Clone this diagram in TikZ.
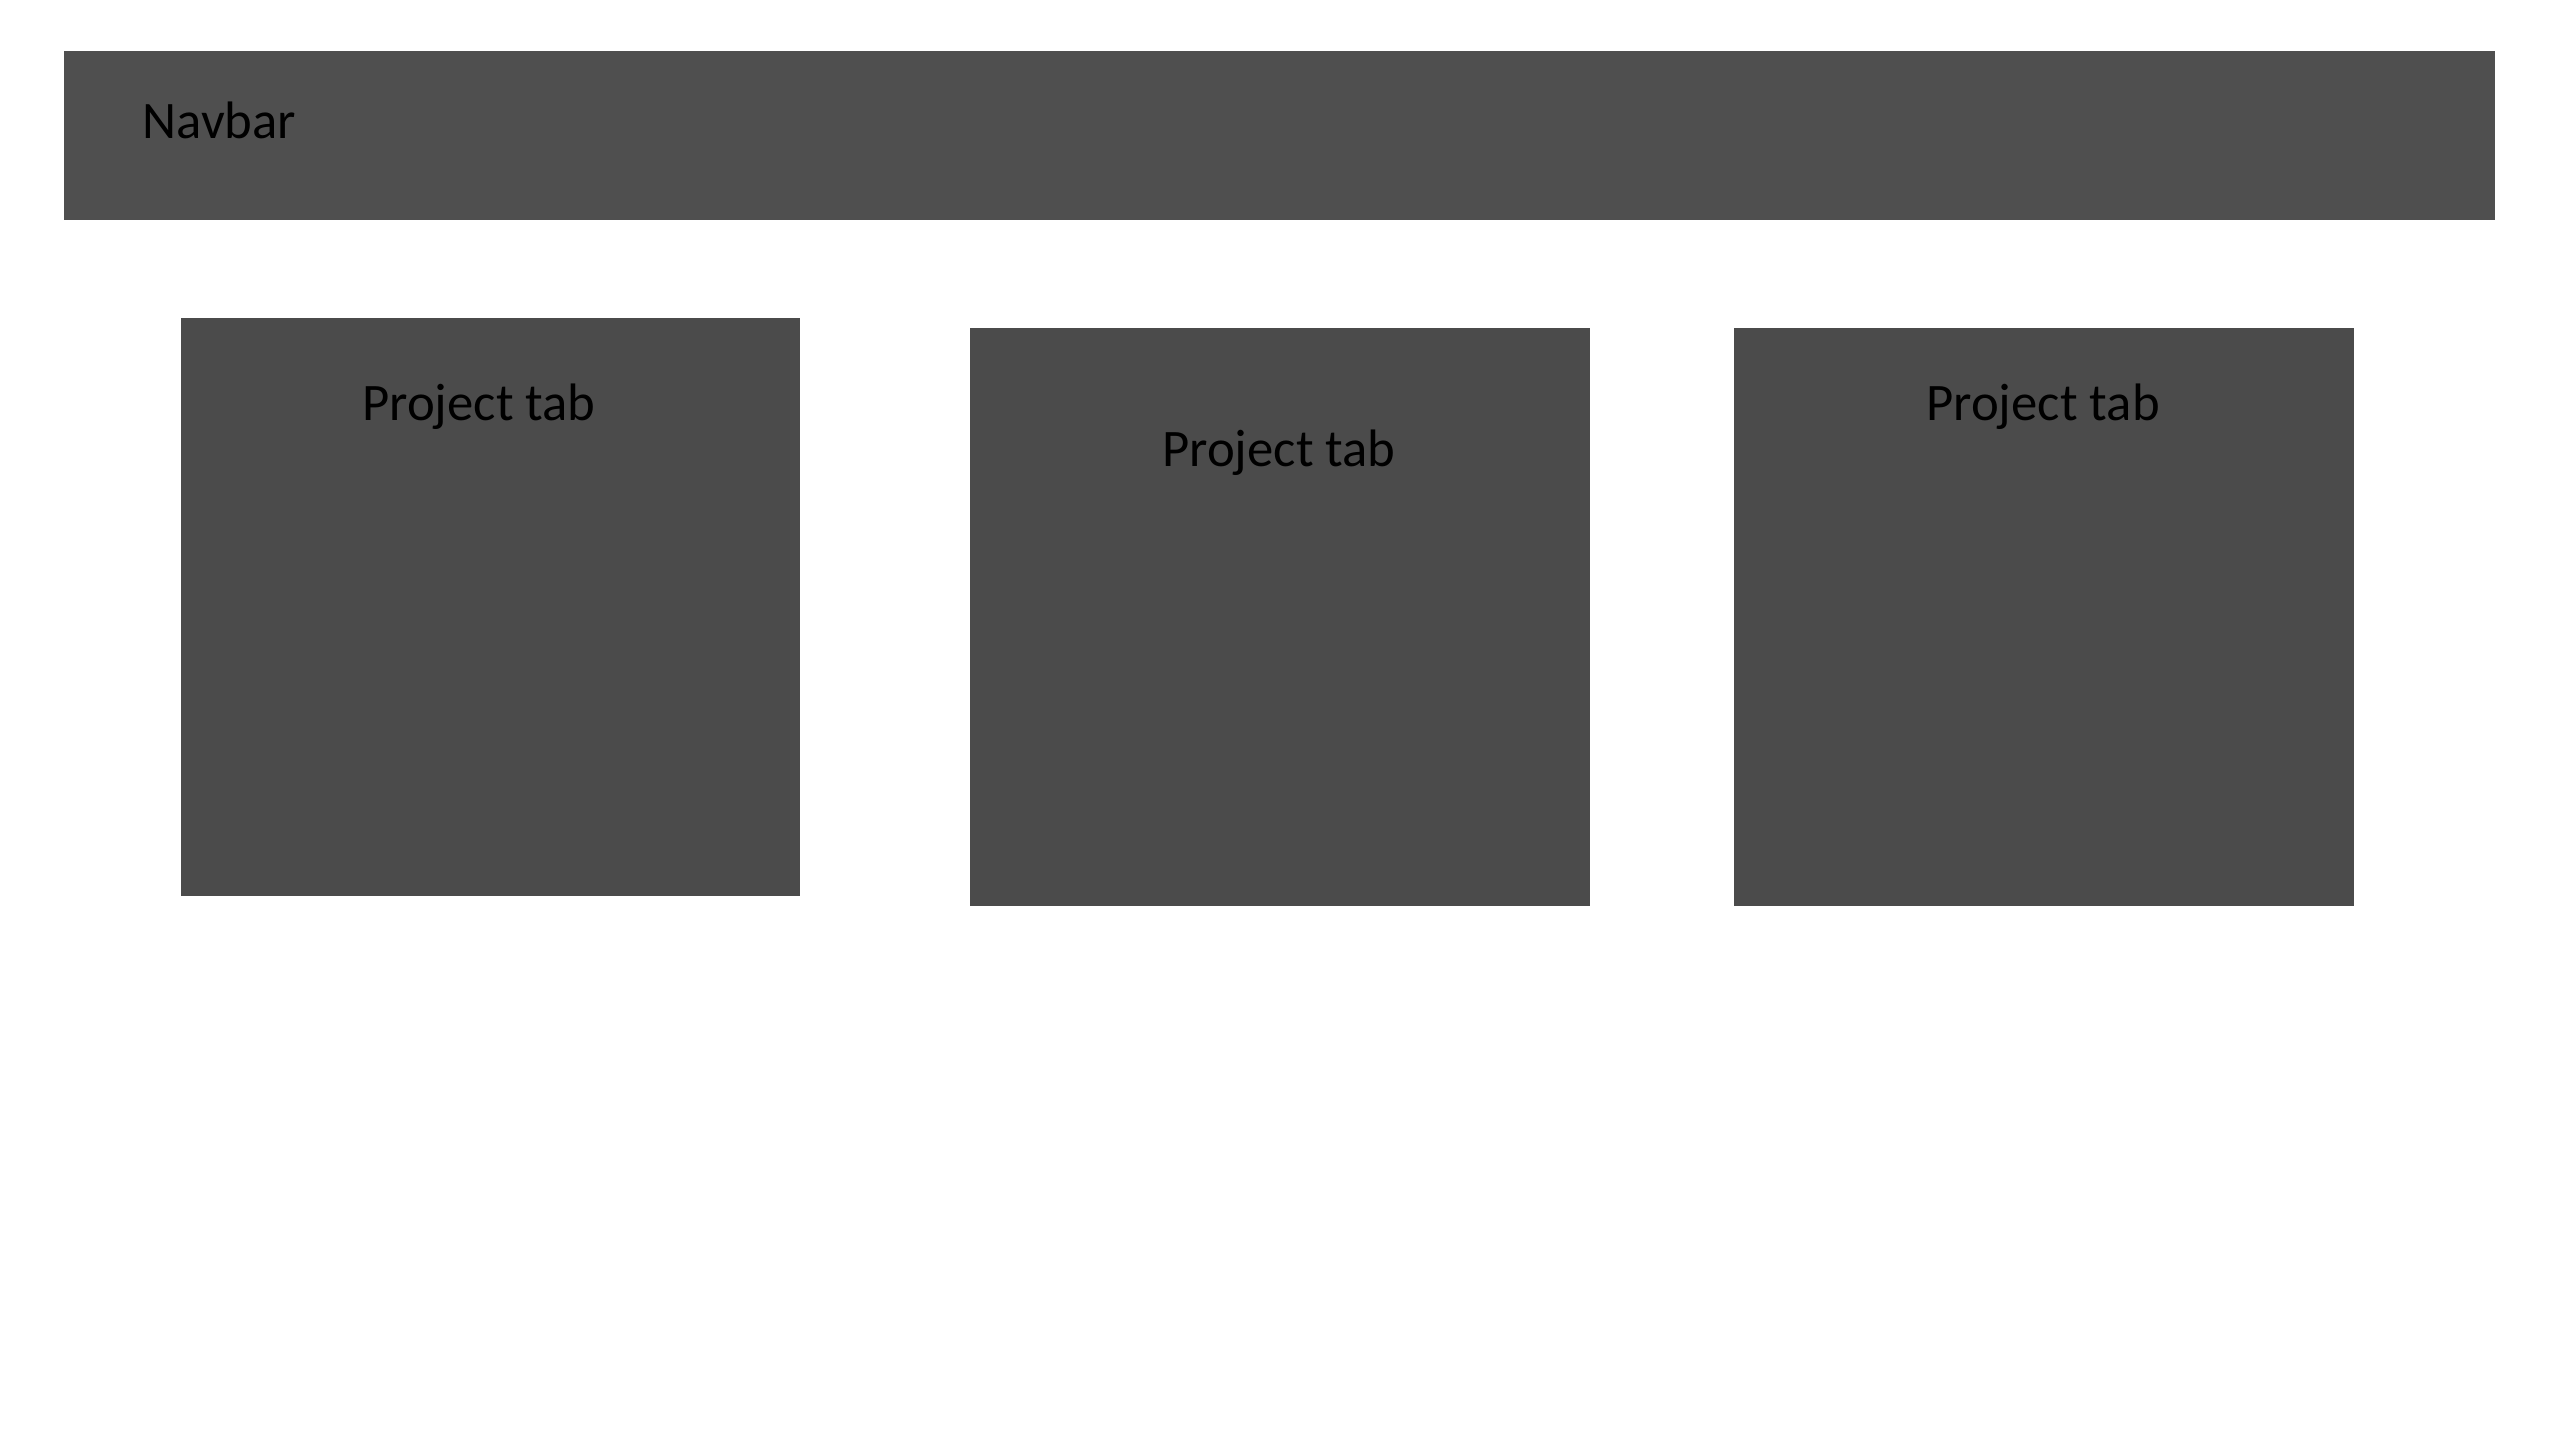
\documentclass[tikz,border=0pt]{standalone}
\usepackage{fontspec}
\setmainfont{Carlito}
\usepackage{tikz}
\tikzset{every picture/.style={scale=1, every picture/.style={}}}

\begin{document}
\begin{tikzpicture}
      \def\fs{\fontsize{15}{18}\selectfont}
      \definecolor{colnav}{rgb}{0.31,0.31,0.31}
      \definecolor{coltab}{rgb}{0.295,0.295,0.295}
      \useasboundingbox (0, 0) rectangle (25.6, 14.4);

      % Navbar
      \fill[colnav] (0.637, 12.196) rectangle (24.947, 13.894);
      \node[anchor=base west, inner sep=0, font=\fs] (navlabel) at (1.42, 13.01) {Navbar};

      % Project tabs
      \fill[coltab] (1.81, 5.44) rectangle (8.00, 11.22);
      \fill[coltab] (9.70, 5.34) rectangle (15.90, 11.12);
      \fill[coltab] (17.34, 5.34) rectangle (23.54, 11.12);

      % Tab labels
      \node[anchor=base, inner sep=0, font=\fs] (taba) at (4.79, 10.19) {Project tab};
      \node[anchor=base, inner sep=0, font=\fs] (tabb) at (12.79, 9.73) {Project tab};
      \node[anchor=base, inner sep=0, font=\fs] (tabc) at (20.43, 10.19) {Project tab};
    \end{tikzpicture}
\end{document}
